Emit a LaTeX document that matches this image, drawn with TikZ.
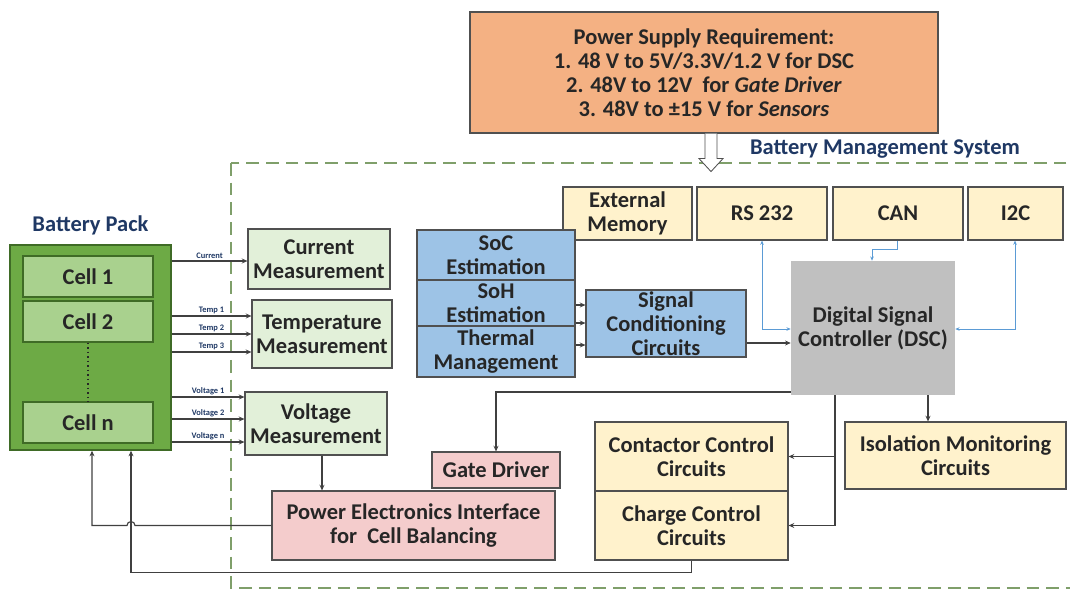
\documentclass[tikz,border=0pt]{standalone}
\usepackage{fontspec}
\setmainfont{Carlito}
\usetikzlibrary{arrows.meta, positioning}

\begin{document}
\begin{tikzpicture}[x=0.025cm, y=-0.025cm, >={Stealth[length=4pt, width=3.5pt]},
    every node/.style={align=center, font=\fontsize{16}{17}\selectfont\bfseries, text=txt},
    spot/.style n args={4}{minimum width={(#3-#1)*0.025cm}, minimum height={(#4-#2)*0.025cm}, at={({(#1+#3)/2},{(#2+#4)/2})}},
    blk/.style={draw=edge, line width=0.8pt, inner sep=0pt},
    cellbox/.style={draw=packedge, fill=cellbg, line width=0.8pt, inner sep=0pt},
    link/.style={draw=wire, line width=0.8pt},
    bus/.style={draw=busblue, line width=0.6pt, >={Stealth[length=3pt, width=2.5pt]}},
    tag/.style={font=\fontsize{6}{6}\selectfont\bfseries, text=navy, inner sep=1pt, above}]
  \definecolor{txt}{HTML}{262626} \definecolor{edge}{HTML}{505050}
  \definecolor{wire}{HTML}{404040} \definecolor{navy}{HTML}{1F3864}
  \definecolor{busblue}{HTML}{5B9BD5}
  \definecolor{psbg}{HTML}{F4B183} \definecolor{packbg}{HTML}{6DAA45}
  \definecolor{packedge}{HTML}{3F6B26} \definecolor{cellbg}{HTML}{A9D18E}
  \definecolor{measbg}{HTML}{E2F0D9} \definecolor{bluebg}{HTML}{9DC3E6}
  \definecolor{ybg}{HTML}{FFF2CC} \definecolor{pinkbg}{HTML}{F4CCCC}
  \definecolor{dscbg}{HTML}{C0C0C0} \definecolor{bmsgreen}{HTML}{7F9F6A}
  \useasboundingbox (0,0) rectangle (1070,592);

  % BMS frame
  \draw[bmsgreen, line width=2pt, dash pattern=on 9pt off 5pt] (231,163) rectangle (1080,588);
  \node[text=navy] (bmslabel) at (885,149) {Battery Management System};

  % power supply
  \node[blk, fill=psbg, spot={470}{12}{938}{133}] (psr) {Power Supply Requirement:\\1. 48 V to 5V/3.3V/1.2 V for DSC\\2. 48V to 12V\ \ for \textit{Gate Driver}\\3. 48V to ±15 V for \textit{Sensors}};
  \draw[edge, fill=white, line width=0.6pt] (705,0 |- psr.south) -- ++(0,25) -- ++(-6,0) -- ++(12,13) -- ++(12,-13) -- ++(-6,0) -- ++(0,-25);

  % battery pack
  \node[fill=packbg, draw=packedge, line width=1pt, inner sep=0pt, spot={10}{245}{171}{450}] (bpack) {};
  \node[text=navy, above=3pt of bpack] (bplabel) {Battery Pack};
  \node[cellbox, spot={23}{256}{153}{297}] (cell1) {Cell 1};
  \node[cellbox, spot={23}{301}{153}{342}] (cell2) {Cell 2};
  \node[cellbox, spot={23}{402}{153}{443}] (celln) {Cell n};
  \draw[txt, line width=1.2pt, dotted] (cell2.south) -- (celln.north);

  % measurement
  \node[blk, fill=measbg, spot={248}{229}{390}{289}] (curm) {Current\\Measurement};
  \node[blk, fill=measbg, spot={252}{300}{392}{368}] (tempm) {Temperature\\Measurement};
  \node[blk, fill=measbg, spot={245}{392}{387}{455}] (voltm) {Voltage\\Measurement};
  \draw[link,->] (bpack.east |- 0,261) -- node[tag]{Current} (curm.west |- 0,261);
  \draw[link,->] (bpack.east |- 0,316) -- node[tag]{Temp 1} (tempm.west |- 0,316);
  \draw[link,->] (bpack.east |- 0,334) -- node[tag]{Temp 2} (tempm.west |- 0,334);
  \draw[link,->] (bpack.east |- 0,352) -- node[tag]{Temp 3} (tempm.west |- 0,352);
  \draw[link,->] (bpack.east |- 0,397) -- node[tag]{Voltage 1} (voltm.west |- 0,397);
  \draw[link,->] (bpack.east |- 0,419) -- node[tag]{Voltage 2} (voltm.west |- 0,419);
  \draw[link,->] (bpack.east |- 0,442) -- node[tag]{Voltage n} (voltm.west |- 0,442);

  % interfaces
  \node[blk, fill=ybg, spot={563}{187}{692}{240}] (extmem) {External\\Memory};
  \node[blk, fill=ybg, spot={697}{187}{827}{240}] (rs) {RS 232};
  \node[blk, fill=ybg, spot={833}{187}{963}{240}] (can) {CAN};
  \node[blk, fill=ybg, spot={968}{187}{1063}{240}] (iic) {I2C};

  % estimation
  \node[blk, fill=bluebg, spot={417}{230}{575}{280}] (soc) {SoC\\Estimation};
  \node[blk, fill=bluebg, spot={417}{280}{575}{326}] (soh) {SoH\\Estimation};
  \node[blk, fill=bluebg, spot={417}{326}{575}{377}] (therm) {Thermal\\Management};
  \node[blk, fill=bluebg, spot={586}{290}{746}{357}] (sigc) {Signal\\Conditioning\\Circuits};
  \node[fill=dscbg, inner sep=0pt, spot={791}{261}{955}{395}] (dsc) {Digital Signal\\Controller (DSC)};
  \draw[link,->] (soh.east |- 0,305) -- (sigc.west |- 0,305);
  \draw[link,->] (soh.east |- 0,323) -- (sigc.west |- 0,323);
  \draw[link,->] (therm.east |- 0,345) -- (sigc.west |- 0,345);
  \draw[link,->] (sigc.east |- 0,343) -- (dsc.west |- 0,343);

  \draw[bus,<->] (762,0 |- rs.south) |- (dsc.west |- 0,329);
  \draw[bus,<->] (1015,0 |- iic.south) |- (dsc.east |- 0,329);
  \draw[bus,->] (897,0 |- can.south) -- ++(0,9) -| (872,0 |- dsc.north);

  % outputs
  \node[blk, fill=pinkbg, spot={432}{452}{560}{488}] (gate) {Gate Driver};
  \node[blk, fill=ybg, spot={595}{422}{788}{491}] (contact) {Contactor Control\\Circuits};
  \node[blk, fill=ybg, spot={595}{491}{788}{560}] (charge) {Charge Control\\Circuits};
  \node[blk, fill=ybg, spot={845}{422}{1066}{489}] (iso) {Isolation Monitoring\\Circuits};
  \node[blk, fill=pinkbg, spot={272}{491}{555}{560}] (pe) {Power Electronics Interface\\for\ \ Cell Balancing};

  \draw[link,->] (dsc.west |- 0,392) -| (gate.north);
  \draw[link,->] (835,0 |- dsc.south) |- (charge.east);
  \draw[link,->] (835,0 |- contact.east) -- (contact.east);
  \draw[link,->] (928,0 |- dsc.south) -- (928,0 |- iso.north);
  \draw[link,->] (322,0 |- voltm.south) -- (322,0 |- pe.north);
  \draw[link,->] (pe.west) -- (135,0 |- pe.west) arc[start angle=0, end angle=-180, radius=4] -| (92,0 |- bpack.south);
  \draw[link,->] (charge.south) -- ++(0,12) -| (131,0 |- bpack.south);
\end{tikzpicture}
\end{document}
